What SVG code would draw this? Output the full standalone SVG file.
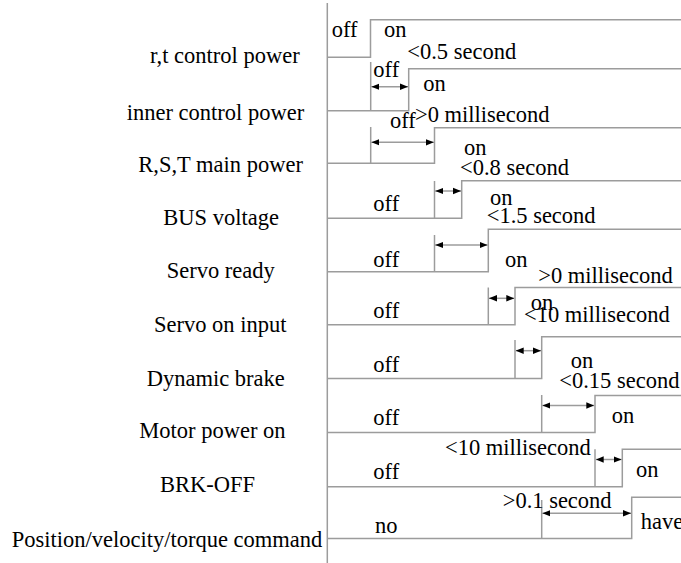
<svg xmlns="http://www.w3.org/2000/svg" width="681" height="563" viewBox="0 0 681 563">
<style>
text{font-family:"Liberation Serif","Times New Roman",serif;font-size:22.5px;fill:#000}
.ln{fill:none;stroke:#9c9c9c;stroke-width:1.5}
.ar{fill:none;stroke:#9c9c9c;stroke-width:1.5;marker-start:url(#ah);marker-end:url(#ah)}
</style>
<defs>
<marker id="ah" viewBox="0 0 10 8" refX="10" refY="4" markerWidth="8" markerHeight="7.5" markerUnits="userSpaceOnUse" orient="auto-start-reverse">
<path d="M0,0 L10,4 L0,8 z" fill="#000"/>
</marker>
</defs>
<rect width="681" height="563" fill="#fff"/>
<g id="axis"><line class="ln" x1="327.3" y1="3" x2="327.3" y2="563"/></g>

<g id="labels">
<text x="150" y="63.3">r,t control power</text>
<text x="126.7" y="120">inner control power</text>
<text x="138.3" y="171.7">R,S,T main power</text>
<text x="163.3" y="225">BUS voltage</text>
<text x="166.7" y="278">Servo ready</text>
<text x="154" y="331.7">Servo on input</text>
<text x="146.7" y="386">Dynamic brake</text>
<text x="139.3" y="438.3">Motor power on</text>
<text x="160" y="492.3">BRK-OFF</text>
<text x="11.7" y="546.7">Position/velocity/torque command</text>
</g>

<g id="connectors">
<!-- signal waveforms -->
<path class="ln" d="M327.3,57.3 H370.5 V19.8 H681"/>
<path class="ln" d="M327.3,110.7 H408.7 V68.7 H681"/>
<path class="ln" d="M327.3,163.3 H434.5 V127.8 H681"/>
<path class="ln" d="M327.3,218.3 H461.7 V180.8 H681"/>
<path class="ln" d="M327.3,271.7 H488.3 V229.3 H681"/>
<path class="ln" d="M327.3,324.7 H515 V287.5 H681"/>
<path class="ln" d="M327.3,378.5 H541.7 V336.7 H681"/>
<path class="ln" d="M327.3,432.5 H595 V395.5 H681"/>
<path class="ln" d="M327.3,486.7 H622.3 V449.3 H681"/>
<path class="ln" d="M327.3,538.5 H631.7 V497.3 H681"/>
<!-- reference markers -->
<line class="ln" x1="370.7" y1="62" x2="370.7" y2="110.7"/>
<line class="ln" x1="370.7" y1="127" x2="370.7" y2="163.3"/>
<line class="ln" x1="434.5" y1="181" x2="434.5" y2="218.3"/>
<line class="ln" x1="434.5" y1="235" x2="434.5" y2="271.7"/>
<line class="ln" x1="488.3" y1="287.5" x2="488.3" y2="324.7"/>
<line class="ln" x1="515" y1="340" x2="515" y2="378.5"/>
<line class="ln" x1="541.7" y1="395" x2="541.7" y2="432.5"/>
<line class="ln" x1="595" y1="449.3" x2="595" y2="486.7"/>
<line class="ln" x1="541.7" y1="500" x2="541.7" y2="538.5"/>
<!-- interval arrows -->
<line class="ar" x1="371.4" y1="86.7" x2="408" y2="86.7"/>
<line class="ar" x1="371.4" y1="142.3" x2="433.8" y2="142.3"/>
<line class="ar" x1="435.2" y1="191" x2="461" y2="191"/>
<line class="ar" x1="435.2" y1="245" x2="487.6" y2="245"/>
<line class="ar" x1="489" y1="298.3" x2="514.3" y2="298.3"/>
<line class="ar" x1="515.7" y1="350.7" x2="541" y2="350.7"/>
<line class="ar" x1="542.4" y1="405.5" x2="594.3" y2="405.5"/>
<line class="ar" x1="595.7" y1="459.5" x2="621.6" y2="459.5"/>
<line class="ar" x1="542.4" y1="513.3" x2="631" y2="513.3"/>
</g>

<g id="state-texts">
<text x="331.7" y="37">off</text>
<text x="384" y="37">on</text>
<text x="407.3" y="59.3">&lt;0.5 second</text>
<text x="373.3" y="76.7">off</text>
<text x="423.3" y="90.7">on</text>
<text x="390" y="128.3">off</text>
<text x="415" y="121.7">&gt;0 millisecond</text>
<text x="464" y="155">on</text>
<text x="460" y="175">&lt;0.8 second</text>
<text x="373.3" y="211">off</text>
<text x="490" y="205">on</text>
<text x="486.7" y="223.3">&lt;1.5 second</text>
<text x="373.3" y="267">off</text>
<text x="505" y="267">on</text>
<text x="538.3" y="283.3">&gt;0 millisecond</text>
<text x="373.3" y="318.3">off</text>
<text x="530.7" y="310">on</text>
<text x="524" y="321.7">&lt;10 millisecond</text>
<text x="373.3" y="371.7">off</text>
<text x="570.7" y="368.3">on</text>
<text x="559.3" y="388.3">&lt;0.15 second</text>
<text x="373.3" y="425">off</text>
<text x="611.7" y="423.3">on</text>
<text x="445" y="455">&lt;10 millisecond</text>
<text x="373.3" y="479.3">off</text>
<text x="636" y="477.3">on</text>
<text x="502.7" y="508.3">&gt;0.1 second</text>
<text x="375" y="533.3">no</text>
<text x="640.7" y="529.3">have</text>
</g>
</svg>
